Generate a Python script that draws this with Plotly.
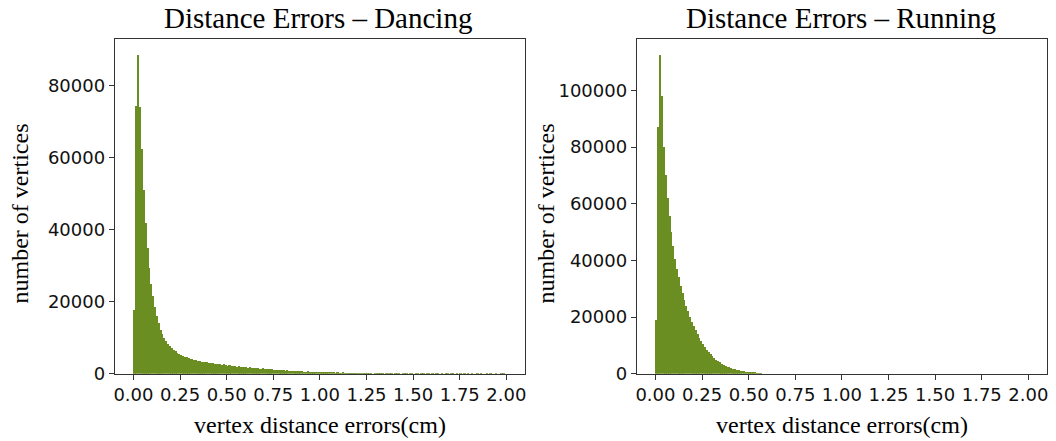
import plotly.graph_objects as go

# ---------------- data ----------------
bin_start = 0.0
bin_width = 0.01

dancing_counts = [
    17800, 74500, 88600, 74200, 62500, 51000, 42000, 35000, 29500, 25000,
    21500, 18500, 16000, 14000, 12300, 11000, 9900, 9000, 8300, 7700,
    7200, 6700, 6300, 5900, 5600, 5300, 5000, 4800, 4600, 4400,
    4200, 4000, 3900, 3700, 3600, 3500, 3400, 3300, 3200, 3300,
    3000, 2900, 3000, 2800, 2700, 2750, 2600, 2500, 2650, 2400,
    2300, 2350, 2200, 2250, 2100, 2000, 2050, 1900, 1850, 1950,
    1800, 1700, 1750, 1600, 1550, 1650, 1500, 1450, 1400, 1500,
    1350, 1300, 1250, 1350, 1200, 1150, 1100, 1150, 1000, 1050,
    950, 900, 1000, 850, 800, 900, 750, 800, 700, 650,
    750, 600, 550, 650, 500, 550, 450, 500, 400, 450,
    350, 400, 300, 350, 300, 250, 300, 250, 200, 250,
    200, 150, 250, 200, 150, 200, 150, 200, 100, 150,
    200, 150, 100, 150, 100, 200, 100, 150, 0, 100,
    150, 100, 50, 150, 0, 100, 100, 50, 150, 0,
    100, 50, 100, 0, 150, 50, 100, 0, 50, 100,
    0, 100, 50, 0, 100, 50, 0, 150, 50, 0,
    100, 0, 50, 100, 0, 50, 0, 100, 50, 0,
    50, 100, 0, 50, 0, 100, 0, 50, 0, 100,
    0, 50, 0, 0, 100, 0, 50, 0, 0, 50,
    0, 100, 0, 0, 50, 0, 0, 100, 50, 0,
]

running_counts = [
    19000, 87000, 112500, 98000, 80000, 70000, 62000, 55500, 50000, 45000,
    40500, 37000, 34000, 31000, 28500, 26000, 24000, 22000, 20000, 18300,
    16800, 15300, 14000, 12700, 11500, 10400, 9400, 8500, 7700, 6900,
    6200, 5600, 5000, 4500, 4000, 3600, 3200, 2850, 2550, 2300,
    2050, 1800, 1600, 1400, 1250, 1100, 950, 830, 720, 620,
    530, 450, 380, 320, 260, 200, 150,
] + [0] * 143

titles = ["Distance Errors – Dancing", "Distance Errors – Running"]
x_label = "vertex distance errors(cm)"
y_label = "number of vertices"
x_ticks = [0.0, 0.25, 0.5, 0.75, 1.0, 1.25, 1.5, 1.75, 2.0]

# ---------------- figure ----------------
W, H = 1056, 441
HV = 430  # effective vertical extent observed in the rendered page
BAR_COLOR = "#6b8e23"
SERIF = "Liberation Serif, Times New Roman, serif"
SANS = "DejaVu Sans, sans-serif"


def fy(px):
    return 1 - px / HV


fig = go.Figure()

panels = [
    dict(counts=dancing_counts, xa="x", ya="y", dom=(114, 525), ydtick=20000,
         title_x=318, ylab_x=20),
    dict(counts=running_counts, xa="x2", ya="y2", dom=(637, 1048), ydtick=20000,
         title_x=842, ylab_x=547),
]

top_px, bot_px = 39, 373
ydom = [fy(bot_px), fy(top_px)]

for i, p in enumerate(panels):
    centers = [bin_start + bin_width * (k + 0.5) for k in range(len(p["counts"]))]
    fig.add_trace(go.Bar(
        x=centers, y=p["counts"], width=bin_width,
        marker=dict(color=BAR_COLOR, line=dict(width=0)),
        xaxis=p["xa"], yaxis=p["ya"], showlegend=False,
    ))
    suffix = "" if i == 0 else str(i + 1)
    ymax = max(p["counts"]) * 1.05
    axis_common = dict(
        showline=True, linecolor="#333333", linewidth=1, mirror=True,
        ticks="outside", ticklen=5, tickwidth=1, tickcolor="#333333",
        showgrid=False, zeroline=False,
        tickfont=dict(family=SANS, size=18, color="#111111"),
    )
    fig.layout["xaxis" + suffix] = dict(
        domain=[p["dom"][0] / W, p["dom"][1] / W],
        range=[-0.1, 2.1], tickmode="array", tickvals=x_ticks,
        ticktext=[f"{v:.2f}" for v in x_ticks],
        anchor="y" + suffix, **axis_common,
    )
    fig.layout["yaxis" + suffix] = dict(
        domain=ydom, range=[0, ymax], dtick=p["ydtick"], tick0=0,
        tickformat="d", anchor="x" + suffix, **axis_common,
    )
    # titles
    fig.add_annotation(text=titles[i], xref="paper", yref="paper",
                       x=p["title_x"] / W, y=fy(18), showarrow=False,
                       xanchor="center", yanchor="middle",
                       font=dict(family=SERIF, size=29, color="#000000"))
    fig.add_annotation(text=x_label, xref="paper", yref="paper",
                       x=(p["dom"][0] + p["dom"][1]) / 2 / W, y=fy(424),
                       showarrow=False, xanchor="center", yanchor="middle",
                       font=dict(family=SERIF, size=24, color="#000000"))
    fig.add_annotation(text=y_label, xref="paper", yref="paper",
                       x=p["ylab_x"] / W, y=fy(213), textangle=-90,
                       showarrow=False, xanchor="center", yanchor="middle",
                       font=dict(family=SERIF, size=24, color="#000000"))

fig.update_layout(
    width=W, height=H, autosize=False, margin=dict(l=0, r=0, t=0, b=0),
    paper_bgcolor="white", plot_bgcolor="white", bargap=0,
)

fig.write_html(
    "out.html",
    config={"displayModeBar": False, "responsive": False},
    post_script="document.body.style.margin='0';document.body.style.overflow='hidden';",
)
